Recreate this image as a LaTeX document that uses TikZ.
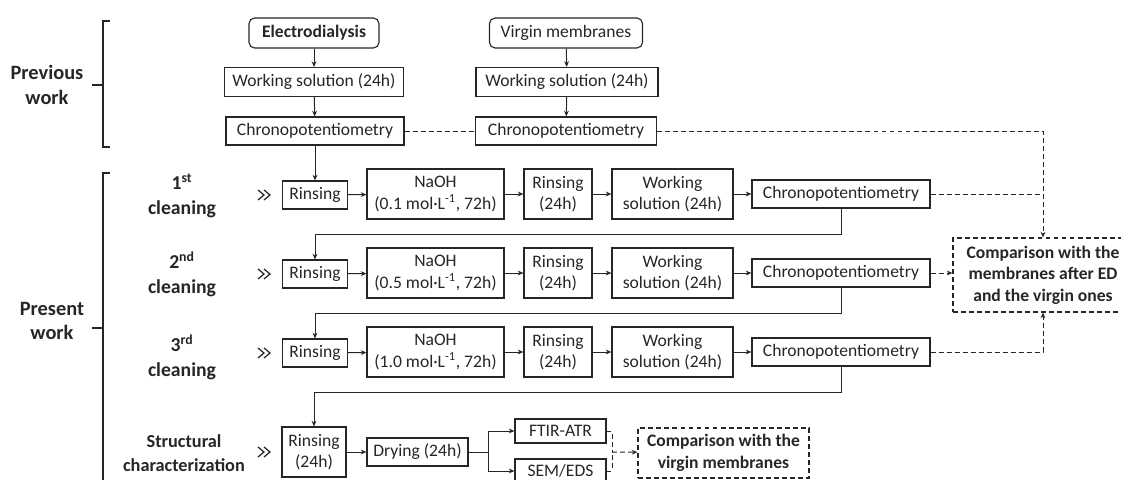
\documentclass[tikz,border=0pt]{standalone}
\usepackage{fontspec}
\setmainfont{Carlito}
\usetikzlibrary{arrows.meta}
\definecolor{ink}{HTML}{262626}

\begin{document}
\begin{tikzpicture}[x=0.025cm, y=-0.025cm, color=ink, >={Stealth[length=4pt,width=3.4pt]}]
% Style definitions
\tikzset{
    stage/.style={draw, line width=0.8pt, align=center, inner sep=1pt,
                  font=\fontsize{12.5}{15}\selectfont},
    short/.style={stage, minimum height=0.7cm},
    tall/.style={stage, minimum height=1.25cm},
    origin/.style={stage, rounded corners=4pt, minimum height=0.75cm},
    compare/.style={stage, dash pattern=on 3.5pt off 2.2pt,
                    font=\bfseries\fontsize{12.5}{15.2}\selectfont},
    phase/.style={align=center, font=\bfseries\fontsize{14.5}{17.7}\selectfont},
    rowlabel/.style={align=center, font=\bfseries\fontsize{14}{17.7}\selectfont},
    flow/.style={->, line width=0.7pt},
    link/.style={line width=0.7pt, dash pattern=on 3.5pt off 2.2pt}
}

\path[use as bounding box, clip] (0,0) rectangle (1121,480);

% Group labels and brackets
\node[phase] (prev) at (47,85) {Previous\\work};
\node[phase] (pres) at (52,321) {Present\\work};
\draw[line width=0.8pt] (110,21) -- (103,21) -- (103,147) -- (110,147);
\draw[line width=0.8pt] (92,85) -- (103,85);
\draw[line width=0.8pt] (110,173) -- (103,173) -- (103,490);
\draw[line width=0.8pt] (92,328) -- (103,328);

\node[rowlabel] (lab1) at (182,196) {1\textsuperscript{st}\\cleaning};
\node[rowlabel] (lab2) at (182,274) {2\textsuperscript{nd}\\cleaning};
\node[rowlabel] (lab3) at (182,357) {3\textsuperscript{rd}\\cleaning};
\node[rowlabel, font=\bfseries\fontsize{13}{17}\selectfont] (lab4) at (184,453) {Structural\\characterization};

% Double chevrons
\foreach \y in {195,274,353,452}
    \draw[line width=0.9pt] (258,\y-5) -- (264,\y) -- (258,\y+5)
                            (264,\y-5) -- (270,\y) -- (264,\y+5);

% Previous work
\node[origin, minimum width=3.25cm, font=\bfseries\fontsize{12.5}{15}\selectfont] (ed) at (314,33) {Electrodialysis};
\node[origin, minimum width=3.825cm] (vm) at (566,33) {Virgin membranes};
\node[stage, minimum width=4.475cm, minimum height=0.725cm] (ws0) at (314,82) {Working solution (24h)};
\node[stage, minimum width=4.55cm, minimum height=0.725cm] (wsv) at (567,82) {Working solution (24h)};
\node[short, minimum width=4.45cm] (ch0) at (315,131) {Chronopotentiometry};
\node[short, minimum width=4.525cm] (chv) at (566,131) {Chronopotentiometry};

% 1st cleaning
\node[short, minimum width=1.625cm] (rin1) at (315,195) {Rinsing};
\node[tall, minimum width=3.425cm] (naoh1) at (435.5,194) {NaOH\\(0.1 mol·L\textsuperscript{-1}, 72h)};
\node[tall, minimum width=1.7cm] (rns1) at (558,194) {Rinsing\\(24h)};
\node[tall, minimum width=3.025cm] (work1) at (672.5,194) {Working\\solution (24h)};
\node[short, minimum width=4.45cm] (chr1) at (841,194) {Chronopotentiometry};

% 2nd cleaning
\node[short, minimum width=1.625cm] (rin2) at (315,274) {Rinsing};
\node[tall, minimum width=3.425cm] (naoh2) at (435.5,273) {NaOH\\(0.5 mol·L\textsuperscript{-1}, 72h)};
\node[tall, minimum width=1.7cm] (rns2) at (558,273) {Rinsing\\(24h)};
\node[tall, minimum width=3.025cm] (work2) at (672.5,273) {Working\\solution (24h)};
\node[short, minimum width=4.45cm] (chr2) at (841,273) {Chronopotentiometry};

% 3rd cleaning
\node[short, minimum width=1.625cm] (rin3) at (315,353) {Rinsing};
\node[tall, minimum width=3.425cm] (naoh3) at (435.5,352) {NaOH\\(1.0 mol·L\textsuperscript{-1}, 72h)};
\node[tall, minimum width=1.7cm] (rns3) at (558,352) {Rinsing\\(24h)};
\node[tall, minimum width=3.025cm] (work3) at (672.5,352) {Working\\solution (24h)};
\node[short, minimum width=4.45cm] (chr3) at (841,352) {Chronopotentiometry};

% Comparison after ED
\node[compare, minimum width=4.5cm, minimum height=1.85cm] (cmpA) at (1043,275)
    {Comparison with the\\membranes after ED\\and the virgin ones};

% Structural characterization
\node[tall, minimum width=1.6cm] (rin4) at (314,452) {Rinsing\\(24h)};
\node[short, minimum width=2.525cm] (dry) at (417.5,452) {Drying (24h)};
\node[stage, minimum width=2.275cm, minimum height=0.6cm] (ftir) at (560.5,431) {FTIR-ATR};
\node[stage, minimum width=2.275cm, minimum height=0.6cm] (sem) at (560.5,471) {SEM/EDS};
\node[compare, minimum width=4.275cm, minimum height=1.25cm] (cmpB) at (723.5,453)
    {Comparison with the\\virgin membranes};
\coordinate (fork) at (488,452);
\coordinate (join) at (612,452);

% Connecting arrows
\draw[flow] (ed) -- (ws0);
\draw[flow] (ws0) -- (ch0);
\draw[flow] (vm) -- (wsv);
\draw[flow] (wsv) -- (chv);
\draw[flow] (ch0) -- (rin1);
\draw[link] (ch0) -- (chv);
\draw[link, ->] (chv) -| (cmpA);

\draw[flow] (rin1) -- (naoh1);
\draw[flow] (naoh1) -- (rns1);
\draw[flow] (rns1) -- (work1);
\draw[flow] (work1) -- (chr1);
\draw[link] (chr1) -- (chr1 -| cmpA);
\draw[flow] (chr1.south) -- ++(0,26) -| (rin2.north);

\draw[flow] (rin2) -- (naoh2);
\draw[flow] (naoh2) -- (rns2);
\draw[flow] (rns2) -- (work2);
\draw[flow] (work2) -- (chr2);
\draw[link, ->] (chr2.east) -- (chr2.east -| cmpA.west);
\draw[flow] (chr2.south) -- ++(0,26) -| (rin3.north);

\draw[flow] (rin3) -- (naoh3);
\draw[flow] (naoh3) -- (rns3);
\draw[flow] (rns3) -- (work3);
\draw[flow] (work3) -- (chr3);
\draw[link, ->] (chr3) -| (cmpA);
\draw[flow] (chr3.south) -- ++(0,26) -| (rin4.north);

\draw[flow] (rin4) -- (dry);
\draw[line width=0.7pt] (dry) -- (fork);
\draw[flow] (fork) |- (ftir);
\draw[flow] (fork) |- (sem);
\draw[link] (ftir) -| (join);
\draw[link] (sem) -| (join);
\draw[link, ->] (join) -- (cmpB);

\end{tikzpicture}
\end{document}
